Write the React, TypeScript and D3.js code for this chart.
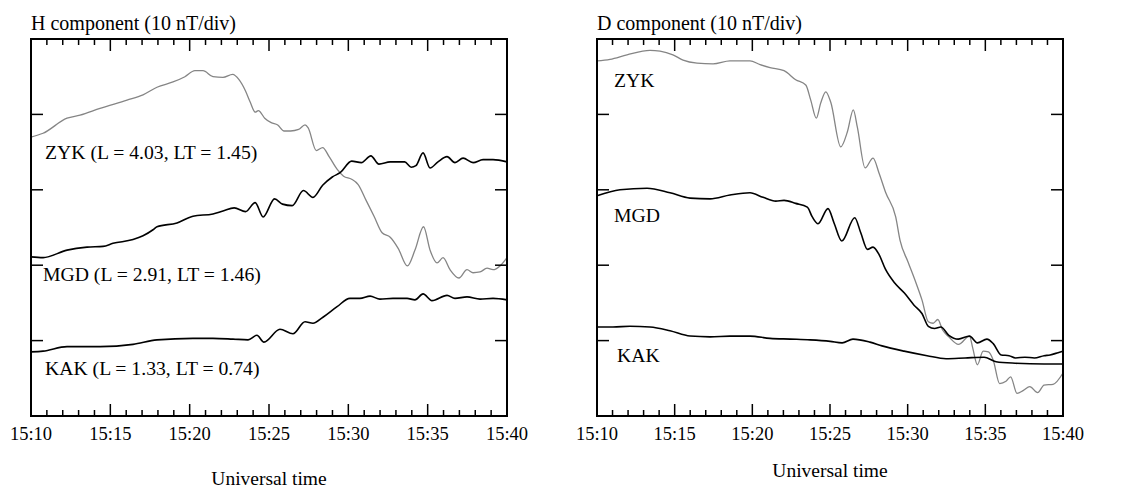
import React, { useEffect, useRef } from 'react';
import * as d3 from 'd3';

// [minutes after 15:00 UT, level in nT above panel bottom]
type Pt = [number, number];

const hZYK: Pt[] = [
  [10.0, 37.0], [10.76, 37.5], [12.27, 39.5], [13.09, 39.9], [14.35, 40.8], [16.05, 41.9],
  [17.06, 42.6], [17.94, 43.6], [18.95, 44.3], [19.7, 45.0], [20.33, 45.8], [20.84, 45.8],
  [21.47, 45.0], [22.1, 44.9], [22.71, 45.3], [23.11, 44.6], [23.52, 43.1], [23.82, 41.6],
  [24.13, 40.3], [24.33, 40.5], [24.73, 39.5], [25.14, 38.9], [25.55, 38.6], [25.95, 37.8],
  [26.36, 37.8], [26.87, 38.0], [27.27, 38.6], [27.47, 38.2], [27.98, 35.2], [28.38, 35.6],
  [28.79, 34.4], [29.3, 32.7], [29.7, 31.8], [30.21, 31.4], [30.62, 30.7], [31.12, 28.6],
  [31.62, 26.5], [32.13, 24.3], [32.64, 23.7], [33.15, 22.2], [33.72, 19.9], [34.2, 22.0],
  [34.74, 25.1], [35.15, 22.0], [35.59, 20.3], [35.97, 21.0], [36.41, 19.4], [36.97, 18.3],
  [37.48, 19.4], [37.86, 19.0], [38.3, 19.1], [38.74, 19.6], [39.12, 19.4], [39.56, 19.9],
  [40.0, 21.0],
];

const hMGD: Pt[] = [
  [10.0, 21.1], [10.76, 21.0], [12.27, 22.0], [13.53, 22.4], [14.54, 22.5], [15.17, 22.9],
  [16.43, 23.4], [17.06, 23.9], [17.69, 24.7], [17.94, 25.1], [19.2, 25.6], [20.21, 26.5],
  [21.47, 26.8], [22.1, 27.2], [22.81, 27.6], [23.52, 27.1], [24.13, 28.3], [24.63, 26.4],
  [25.35, 28.8], [25.85, 28.1], [26.46, 27.9], [27.17, 29.9], [27.77, 29.0], [28.38, 30.6],
  [28.99, 31.7], [29.5, 32.3], [30.21, 33.8], [30.82, 33.6], [31.42, 34.5], [31.93, 33.4],
  [32.64, 33.7], [33.55, 33.7], [33.96, 33.0], [34.26, 33.2], [34.71, 34.9], [35.15, 32.9],
  [35.65, 33.7], [36.22, 34.4], [36.72, 33.6], [37.23, 34.2], [37.86, 33.6], [38.49, 34.0],
  [39.12, 34.0], [40.0, 33.7],
];

const hKAK: Pt[] = [
  [10.0, 8.5], [10.76, 8.6], [12.27, 9.2], [14.35, 9.2], [16.43, 9.5], [17.94, 10.1],
  [20.21, 10.3], [21.47, 10.3], [22.73, 10.2], [23.68, 10.1], [24.24, 10.7], [24.68, 9.8],
  [25.69, 11.5], [26.51, 10.9], [27.27, 12.5], [27.77, 12.3], [28.4, 13.1], [29.29, 14.5],
  [30.1, 15.6], [30.73, 15.6], [31.37, 15.9], [31.99, 15.5], [32.81, 15.6], [33.7, 15.6],
  [34.2, 15.4], [34.71, 16.2], [35.27, 15.3], [36.22, 16.0], [36.72, 15.6], [37.48, 15.8],
  [38.3, 15.5], [39.12, 15.6], [40.0, 15.4],
];

const dZYK: Pt[] = [
  [10.0, 47.1], [10.84, 47.3], [11.93, 47.9], [13.41, 48.5], [14.06, 48.4], [14.89, 47.9],
  [15.54, 47.2], [16.44, 46.8], [17.47, 46.7], [18.56, 47.1], [19.85, 47.1], [20.5, 46.6],
  [21.14, 46.2], [22.04, 45.8], [22.79, 44.6], [23.44, 43.9], [23.76, 41.9], [24.12, 39.5],
  [24.4, 41.5], [24.73, 43.0], [25.05, 41.6], [25.69, 35.7], [26.12, 37.7], [26.5, 40.6],
  [26.76, 38.3], [27.26, 32.9], [27.77, 34.2], [28.16, 32.2], [28.59, 29.6], [29.23, 26.4],
  [29.51, 23.3], [30.03, 20.4], [30.51, 17.8], [30.92, 15.4], [31.33, 12.5], [31.64, 12.3],
  [31.94, 12.8], [32.25, 11.4], [32.65, 10.5], [33.27, 9.5], [33.98, 10.6], [34.19, 9.0],
  [34.49, 6.8], [34.86, 8.6], [35.2, 8.5], [35.51, 7.4], [35.92, 4.3], [36.33, 4.6],
  [36.63, 5.2], [37.04, 3.0], [37.45, 3.4], [37.86, 3.9], [38.37, 3.1], [38.78, 4.1],
  [39.36, 4.2], [40.0, 5.7],
];

const dMGD: Pt[] = [
  [10.0, 29.2], [11.48, 30.0], [13.22, 30.2], [14.7, 29.6], [15.99, 28.9], [17.28, 28.8],
  [18.56, 29.3], [19.85, 29.6], [20.69, 29.0], [21.51, 28.5], [22.04, 28.6], [22.79, 28.2],
  [23.54, 27.7], [23.86, 26.4], [24.23, 25.5], [24.87, 27.5], [25.26, 25.6], [25.76, 23.2],
  [26.59, 26.3], [26.98, 24.3], [27.41, 22.1], [27.77, 22.4], [28.16, 21.4], [28.56, 19.5],
  [29.18, 17.6], [29.79, 16.3], [30.41, 14.7], [30.92, 13.6], [31.33, 11.9], [31.73, 11.6],
  [32.14, 11.8], [32.65, 10.7], [33.26, 10.2], [33.98, 10.6], [34.49, 9.7], [35.1, 10.2],
  [35.51, 9.6], [36.02, 8.1], [36.53, 8.0], [36.94, 7.7], [37.55, 7.8], [38.16, 7.7],
  [38.78, 8.0], [39.17, 8.1], [39.68, 8.4], [40.0, 8.6],
];

const dKAK: Pt[] = [
  [10.0, 11.8], [11.03, 11.8], [12.12, 11.9], [13.41, 11.8], [14.7, 11.3], [15.99, 10.6],
  [17.28, 10.5], [18.56, 10.6], [19.85, 10.6], [21.14, 10.3], [22.43, 10.2], [23.72, 10.1],
  [25.01, 9.9], [25.78, 9.7], [26.48, 10.2], [27.57, 9.8], [28.35, 9.3], [29.77, 8.6],
  [31.25, 8.0], [32.47, 7.6], [33.7, 7.7], [34.92, 7.8], [35.69, 7.2], [36.92, 7.0],
  [38.78, 6.9], [40.0, 6.9],
];

const majorTimes = [10, 15, 20, 25, 30, 35, 40];
const minorTimes = [11, 12, 13, 14, 16, 17, 18, 19, 21, 22, 23, 24, 26, 27, 28, 29, 31, 32, 33, 34, 36, 37, 38, 39];
const levelTicks = [10, 20, 30, 40];
const timeDomain: [number, number] = [10, 40];
const levelDomain: [number, number] = [0, 50];

const GRAY = '#858585';
const FONT = '"Liberation Serif", "Times New Roman", serif';

interface Panel {
  title: string;
  left: number;
  right: number;
  xLabelY: number;
  series: { data: Pt[]; color: string; width: number }[];
  labels: { text: string; x: number; y: number }[];
}

const panels: Panel[] = [
  {
    title: 'H component (10 nT/div)',
    left: 31,
    right: 507,
    xLabelY: 485,
    series: [
      { data: hZYK, color: GRAY, width: 1.3 },
      { data: hMGD, color: '#000', width: 1.6 },
      { data: hKAK, color: '#000', width: 1.6 },
    ],
    labels: [
      { text: 'ZYK (L = 4.03, LT = 1.45)', x: 45, y: 159 },
      { text: 'MGD (L = 2.91, LT = 1.46)', x: 43, y: 281 },
      { text: 'KAK (L = 1.33, LT = 0.74)', x: 45, y: 375 },
    ],
  },
  {
    title: 'D component (10 nT/div)',
    left: 597,
    right: 1063,
    xLabelY: 477,
    series: [
      { data: dZYK, color: GRAY, width: 1.3 },
      { data: dMGD, color: '#000', width: 1.6 },
      { data: dKAK, color: '#000', width: 1.6 },
    ],
    labels: [
      { text: 'ZYK', x: 614, y: 87 },
      { text: 'MGD', x: 614, y: 222 },
      { text: 'KAK', x: 617, y: 362 },
    ],
  },
];

const TOP = 39;
const BOTTOM = 416;

const App: React.FC = () => {
  const svgRef = useRef<SVGSVGElement>(null);

  useEffect(() => {
    if (!svgRef.current) return;
    const svg = d3.select(svgRef.current);
    svg.selectAll('*').remove();

    svg.append('rect').attr('width', 1122).attr('height', 494).attr('fill', '#fff');

    const yScale = d3.scaleLinear().domain(levelDomain).range([BOTTOM, TOP]);

    panels.forEach((p) => {
      const xScale = d3.scaleLinear().domain(timeDomain).range([p.left, p.right]);
      const g = svg.append('g');

      // title
      g.append('text')
        .attr('x', p.left)
        .attr('y', 30)
        .attr('font-size', 20)
        .text(p.title);

      // data lines
      const line = d3.line<Pt>()
        .x((d) => xScale(d[0]))
        .y((d) => yScale(d[1]))
        .curve(d3.curveMonotoneX);

      p.series.forEach((s) => {
        g.append('path')
          .datum(s.data)
          .attr('fill', 'none')
          .attr('stroke', s.color)
          .attr('stroke-width', s.width)
          .attr('stroke-linejoin', 'round')
          .attr('d', line);
      });

      // frame
      g.append('rect')
        .attr('x', p.left)
        .attr('y', TOP)
        .attr('width', p.right - p.left)
        .attr('height', BOTTOM - TOP)
        .attr('fill', 'none')
        .attr('stroke', '#000')
        .attr('stroke-width', 2);

      // time ticks, top and bottom, pointing inward
      const tickG = g.append('g').attr('stroke', '#000').attr('stroke-width', 1.5);
      majorTimes.forEach((t) => {
        const x = xScale(t);
        tickG.append('line').attr('x1', x).attr('x2', x).attr('y1', BOTTOM).attr('y2', BOTTOM - 12);
        tickG.append('line').attr('x1', x).attr('x2', x).attr('y1', TOP).attr('y2', TOP + 12);
      });
      minorTimes.forEach((t) => {
        const x = xScale(t);
        tickG.append('line').attr('x1', x).attr('x2', x).attr('y1', BOTTOM).attr('y2', BOTTOM - 6);
        tickG.append('line').attr('x1', x).attr('x2', x).attr('y1', TOP).attr('y2', TOP + 6);
      });
      levelTicks.forEach((v) => {
        const y = yScale(v);
        tickG.append('line').attr('x1', p.left).attr('x2', p.left + 12).attr('y1', y).attr('y2', y);
        tickG.append('line').attr('x1', p.right).attr('x2', p.right - 12).attr('y1', y).attr('y2', y);
      });

      // tick labels
      majorTimes.forEach((t) => {
        g.append('text')
          .attr('x', xScale(t))
          .attr('y', 440)
          .attr('text-anchor', 'middle')
          .attr('font-size', 18.5)
          .text(`15:${String(t).padStart(2, '0')}`);
      });

      g.append('text')
        .attr('x', (p.left + p.right) / 2)
        .attr('y', p.xLabelY)
        .attr('text-anchor', 'middle')
        .attr('font-size', 19.5)
        .text('Universal time');

      p.labels.forEach((l) => {
        g.append('text')
          .attr('x', l.x)
          .attr('y', l.y)
          .attr('font-size', 19.7)
          .text(l.text);
      });
    });
  }, []);

  return (
    <svg
      ref={svgRef}
      width={1122}
      height={494}
      style={{ position: 'absolute', left: 0, top: 0, fontFamily: FONT }}
      fontFamily={FONT}
    />
  );
};

export default App;
